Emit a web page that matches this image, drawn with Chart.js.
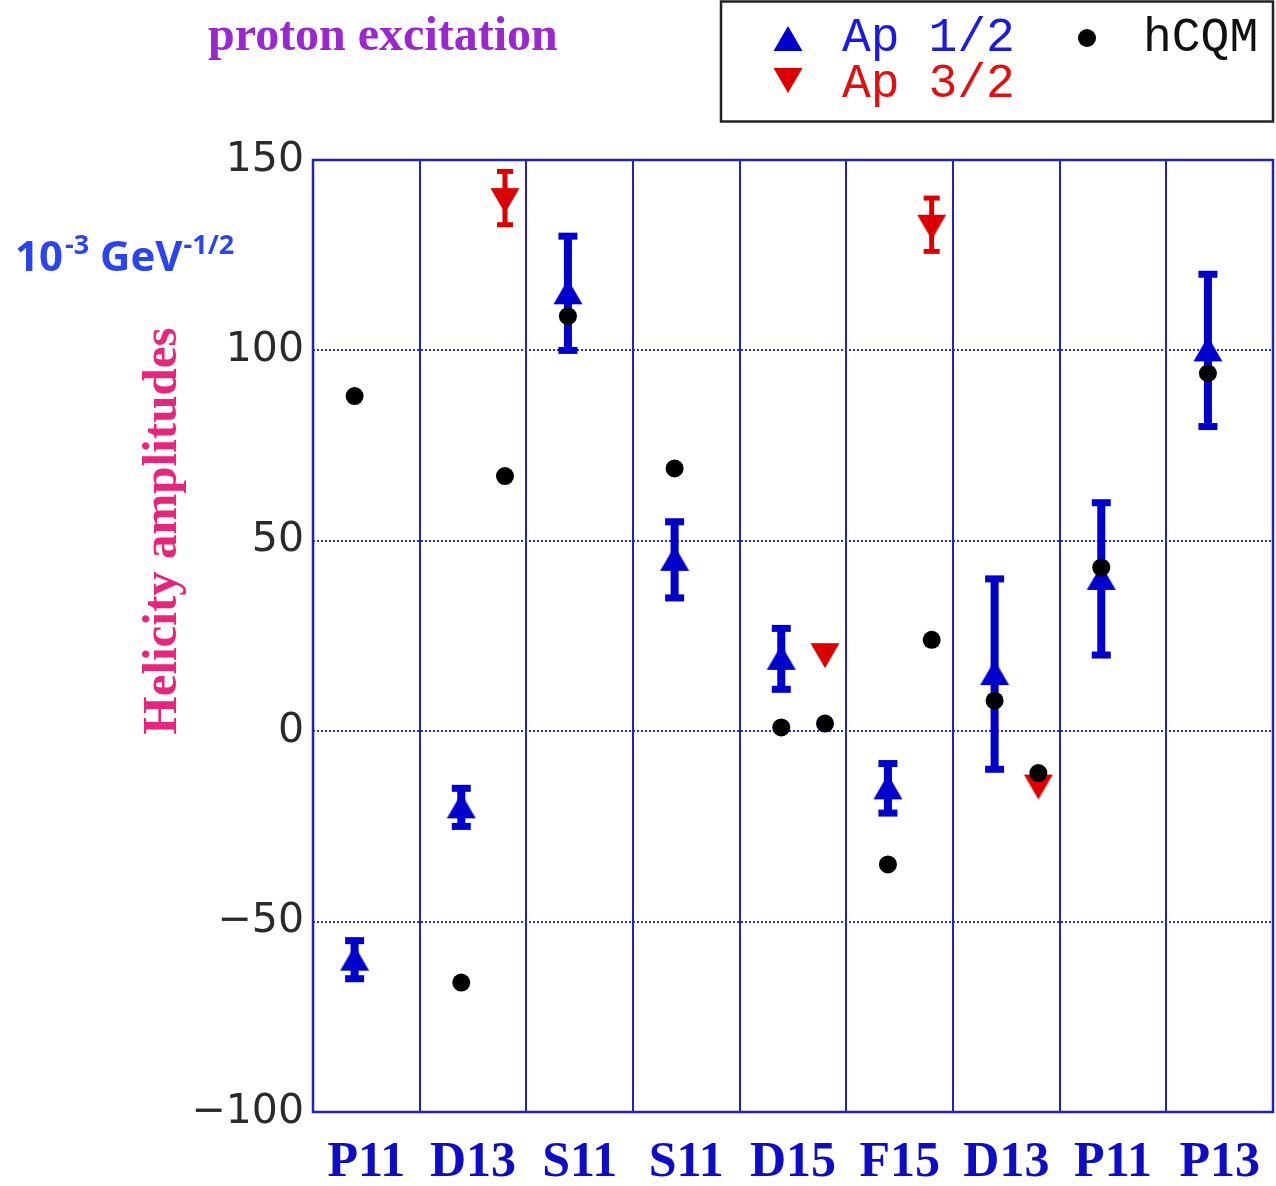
<!DOCTYPE html>
<html>
<head>
<meta charset="utf-8">
<script src="https://cdn.jsdelivr.net/npm/chart.js@4.4.1/dist/chart.umd.min.js"></script>
<style>
  html, body { margin: 0; padding: 0; background: #fff; }
  #wrap { width: 1276px; height: 1186px; }
</style>
</head>
<body>
<div id="wrap"><canvas id="chart" width="1276" height="1186"></canvas></div>
<script>
const categories = ["P11", "D13", "S11", "S11", "D15", "F15", "D13", "P11", "P13"];
const yTicks = [-100, -50, 0, 50, 100, 150];

// measured helicity amplitudes (10^-3 GeV^-1/2) with errors
const ap12 = [-60, -20, 115, 45, 19, -15, 15, 40, 100];
const ap12Err = [5, 5, 15, 10, 8, 6.5, 25, 20, 20];
const ap32 = [null, 140, null, null, 20.5, 133, -14, null, null];
const ap32Err = [null, 7, null, null, 0, 7, 0, null, null];

// hCQM predictions at the A1/2 and A3/2 positions
const hcqm12 = [88, -66, 109, 69, 1, -35, 8, 43, 94];
const hcqm32 = [null, 67, null, null, 2, 24, -11, null, null];

// horizontal place of each amplitude inside its resonance column
const off12 = 0.39;
const off32 = 0.8;

const BLUE = "#0000cc";
const RED = "#dd0000";
const FRAME = "#2222c4";

function triangleImage(color, down) {
  const c = document.createElement("canvas");
  c.width = 30;
  c.height = 34;
  const g = c.getContext("2d");
  g.fillStyle = color;
  g.beginPath();
  if (down) {
    g.moveTo(0.5, 7); g.lineTo(29.5, 7); g.lineTo(15, 32);
  } else {
    g.moveTo(15, 3); g.lineTo(29.5, 28); g.lineTo(0.5, 28);
  }
  g.closePath();
  g.fill();
  return c;
}
const upTri = triangleImage(BLUE, false);
const downTri = triangleImage(RED, true);

const pts = (vals, off) => vals.map((v, i) => ({ x: i + off, y: v }));

// error bars are drawn under the markers
const errorBars = {
  id: "errorBars",
  beforeDatasetsDraw(chart) {
    const { ctx, scales: { y } } = chart;
    chart.data.datasets.forEach((ds, di) => {
      if (!ds.errors) return;
      const meta = chart.getDatasetMeta(di);
      ctx.save();
      ctx.fillStyle = ds.barColor;
      ds.errors.forEach((e, i) => {
        const v = ds.data[i].y;
        if (v == null || !e) return;
        const px = meta.data[i].x;
        const top = y.getPixelForValue(v + e);
        const bot = y.getPixelForValue(v - e);
        ctx.fillRect(px - ds.barW / 2, top, ds.barW, bot - top);
        ctx.fillRect(px - ds.capW / 2, top - ds.capH / 2, ds.capW, ds.capH);
        ctx.fillRect(px - ds.capW / 2, bot - ds.capH / 2, ds.capW, ds.capH);
      });
      ctx.restore();
    });
  }
};

function supText(ctx, x, y, parts) {
  parts.forEach(p => {
    ctx.font = p.font;
    ctx.fillText(p.t, x, y - (p.up || 0));
    x += ctx.measureText(p.t).width + (p.gap || 0);
  });
}

// frame, titles and the boxed key
const decorations = {
  id: "decorations",
  afterDraw(chart) {
    const { ctx, chartArea: a } = chart;
    ctx.save();
    ctx.strokeStyle = FRAME;
    ctx.lineWidth = 2.5;
    ctx.strokeRect(a.left, a.top, a.right - a.left, a.bottom - a.top);

    ctx.fillStyle = "#9b27cf";
    ctx.font = 'bold 48px "Liberation Serif"';
    ctx.textBaseline = "alphabetic";
    ctx.fillText("proton excitation", 208, 50);

    ctx.fillStyle = "#2a44f2";
    supText(ctx, 15, 271, [
      { t: "10", font: 'bold 42px "Open Sans"', gap: 2 },
      { t: "-3", font: 'bold 27px "Open Sans"', up: 17, gap: 0 },
      { t: " GeV", font: 'bold 42px "Open Sans"', gap: 1 },
      { t: "-1/2", font: 'bold 27px "Open Sans"', up: 17 }
    ]);

    ctx.save();
    ctx.translate(176, 531);
    ctx.rotate(-Math.PI / 2);
    ctx.textAlign = "center";
    ctx.fillStyle = "#e8247c";
    ctx.font = 'bold 49px "Liberation Serif"';
    ctx.fillText("Helicity amplitudes", 0, 0);
    ctx.restore();

    // key box
    ctx.strokeStyle = "#222";
    ctx.lineWidth = 2.5;
    ctx.strokeRect(721, 1.5, 552, 120);
    ctx.drawImage(upTri, 788 - 15, 40 - 17);
    ctx.drawImage(downTri, 788 - 15, 78 - 17);
    ctx.fillStyle = "#000";
    ctx.beginPath();
    ctx.arc(1087, 38, 9, 0, Math.PI * 2);
    ctx.fill();
    ctx.font = '48px "Liberation Mono"';
    ctx.fillStyle = "#1a1ae0";
    ctx.fillText(chart.data.datasets[1].label, 842, 51);
    ctx.fillStyle = "#e01010";
    ctx.fillText(chart.data.datasets[2].label, 842, 97);
    ctx.fillStyle = "#111";
    ctx.fillText(chart.data.datasets[0].label, 1143, 51);
    ctx.restore();
  }
};

new Chart(document.getElementById("chart"), {
  type: "scatter",
  data: {
    datasets: [
      {
        label: "hCQM",
        data: pts(hcqm12, off12).concat(pts(hcqm32, off32)),
        pointStyle: "circle",
        pointRadius: 9,
        pointBackgroundColor: "#000",
        pointBorderWidth: 0,
        order: 0
      },
      {
        label: "Ap 1/2",
        data: pts(ap12, off12),
        errors: ap12Err,
        barColor: BLUE, barW: 8, capW: 19, capH: 7,
        pointStyle: upTri,
        order: 2
      },
      {
        label: "Ap 3/2",
        data: pts(ap32, off32),
        errors: ap32Err,
        barColor: RED, barW: 5, capW: 16, capH: 5,
        pointStyle: downTri,
        order: 1
      }
    ]
  },
  options: {
    responsive: false,
    animation: false,
    devicePixelRatio: 1,
    layout: { autoPadding: false, padding: { top: 160, right: 3, left: 0, bottom: 0 } },
    plugins: {
      legend: { display: false },
      tooltip: { enabled: false }
    },
    scales: {
      x: {
        type: "linear",
        min: 0,
        max: categories.length,
        afterBuildTicks: s => { s.ticks = categories.map((c, i) => ({ value: i + 0.5 })); },
        afterFit: s => { s.height = 74; s.paddingLeft = 0; s.paddingRight = 0; },
        ticks: {
          callback: (v, i) => categories[i],
          autoSkip: false,
          maxRotation: 0,
          padding: 21,
          color: "#0d0dc8",
          font: { family: "Liberation Serif", size: 50, weight: "bold" }
        },
        grid: { offset: true, color: FRAME, lineWidth: 2, drawTicks: false },
        border: { display: false }
      },
      y: {
        min: yTicks[0],
        max: yTicks[yTicks.length - 1],
        afterBuildTicks: s => { s.ticks = yTicks.map(v => ({ value: v })); },
        afterFit: s => { s.width = 313; },
        ticks: {
          callback: v => (v < 0 ? "\u2212" + Math.abs(v) : String(v)),
          padding: 9,
          color: "#2a2a2a",
          font: { family: "DejaVu Sans", size: 41 }
        },
        grid: {
          color: ctx => (ctx.tick && (ctx.tick.value === 150 || ctx.tick.value === -100)) ? "rgba(0,0,0,0)" : "#2a2ad8",
          lineWidth: 2,
          drawTicks: false
        },
        border: { display: false, dash: [2, 2] }
      }
    }
  },
  plugins: [errorBars, decorations]
});
</script>
</body>
</html>
